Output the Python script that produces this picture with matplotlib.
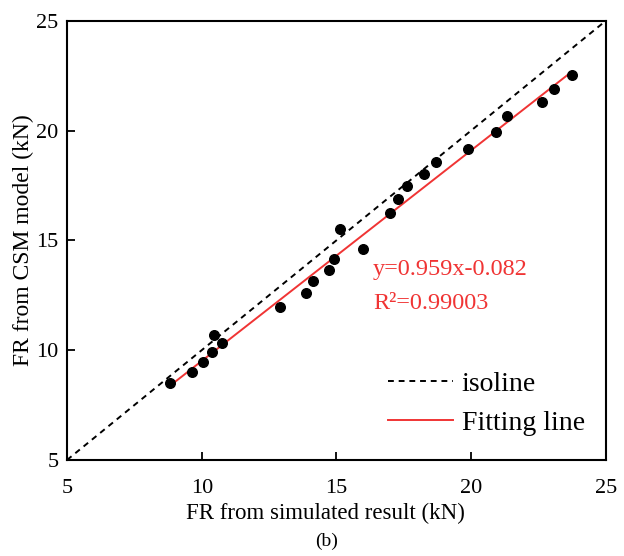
import numpy as np
import matplotlib
matplotlib.use('Agg')
from matplotlib import pyplot as plt

plt.rcParams['font.family'] = ['Liberation Serif', 'DejaVu Serif']

# simulated FR (x) vs CSM model FR (y), kN
fr_sim = [8.82, 9.63, 10.06, 10.39, 10.45, 10.76, 12.90, 13.87, 14.14, 14.72,
          14.92, 15.13, 15.99, 16.99, 17.29, 17.63, 18.25, 18.69, 19.87, 20.92,
          21.34, 22.61, 23.08, 23.75]
fr_csm = [8.49, 9.02, 9.48, 9.93, 10.69, 10.31, 11.95, 12.59, 13.15, 13.65,
          14.14, 15.51, 14.61, 16.23, 16.89, 17.48, 18.02, 18.56, 19.16, 19.92,
          20.66, 21.32, 21.89, 22.53]
slope = 0.959
intercept = -0.082
r2 = 0.99003
iso_range = [5, 25]
ticks = [5, 10, 15, 20, 25]

fig = plt.figure(figsize=(6.24, 5.56), dpi=100)
ax = fig.add_axes([0.1074, 0.1727, 0.8636, 0.7901])

ax.plot(iso_range, iso_range, color='black', ls=(0, (3, 2.5)), lw=1.4, label='isoline')
xf = np.array([min(fr_sim), max(fr_sim)])
ax.plot(xf, slope*xf + intercept, color='#f03434', lw=1.4, label='Fitting line')
ax.scatter(fr_sim, fr_csm, s=48, color='black', zorder=3)

ax.set_xlim(5, 25)
ax.set_ylim(5, 25)
ax.set_xticks(ticks)
ax.set_yticks(ticks)
ax.tick_params(direction='in', length=6, width=1.3, labelsize=16, pad=6)
ax.tick_params(axis='x', pad=14)
for s in ax.spines.values():
    s.set_linewidth(1.5)

ax.set_xlabel('FR from simulated result (kN)', fontsize=16.5, labelpad=3)
ax.xaxis.label.set_x(0.479)
ax.set_ylabel('FR from CSM model (kN)', fontsize=17, labelpad=2)

ax.text(0.568, 0.4325, 'y=%.3fx-%.3f' % (slope, -intercept), transform=ax.transAxes,
        color='#f03434', fontsize=17.5, va='center', ha='left')
ax.text(0.568, 0.357, 'R²=%.5f' % r2, transform=ax.transAxes,
        color='#f03434', fontsize=17.5, va='center', ha='left')

ax.legend(loc='center left', bbox_to_anchor=(0.5955, 0.128), frameon=False,
          fontsize=20, handlelength=2.34, handletextpad=0.32, borderpad=0,
          borderaxespad=0, labelspacing=0.47)

fig.text(0.524, 0.026, '(b)', fontsize=14, ha='center', va='center')

fig.savefig('out.png', dpi=100)
